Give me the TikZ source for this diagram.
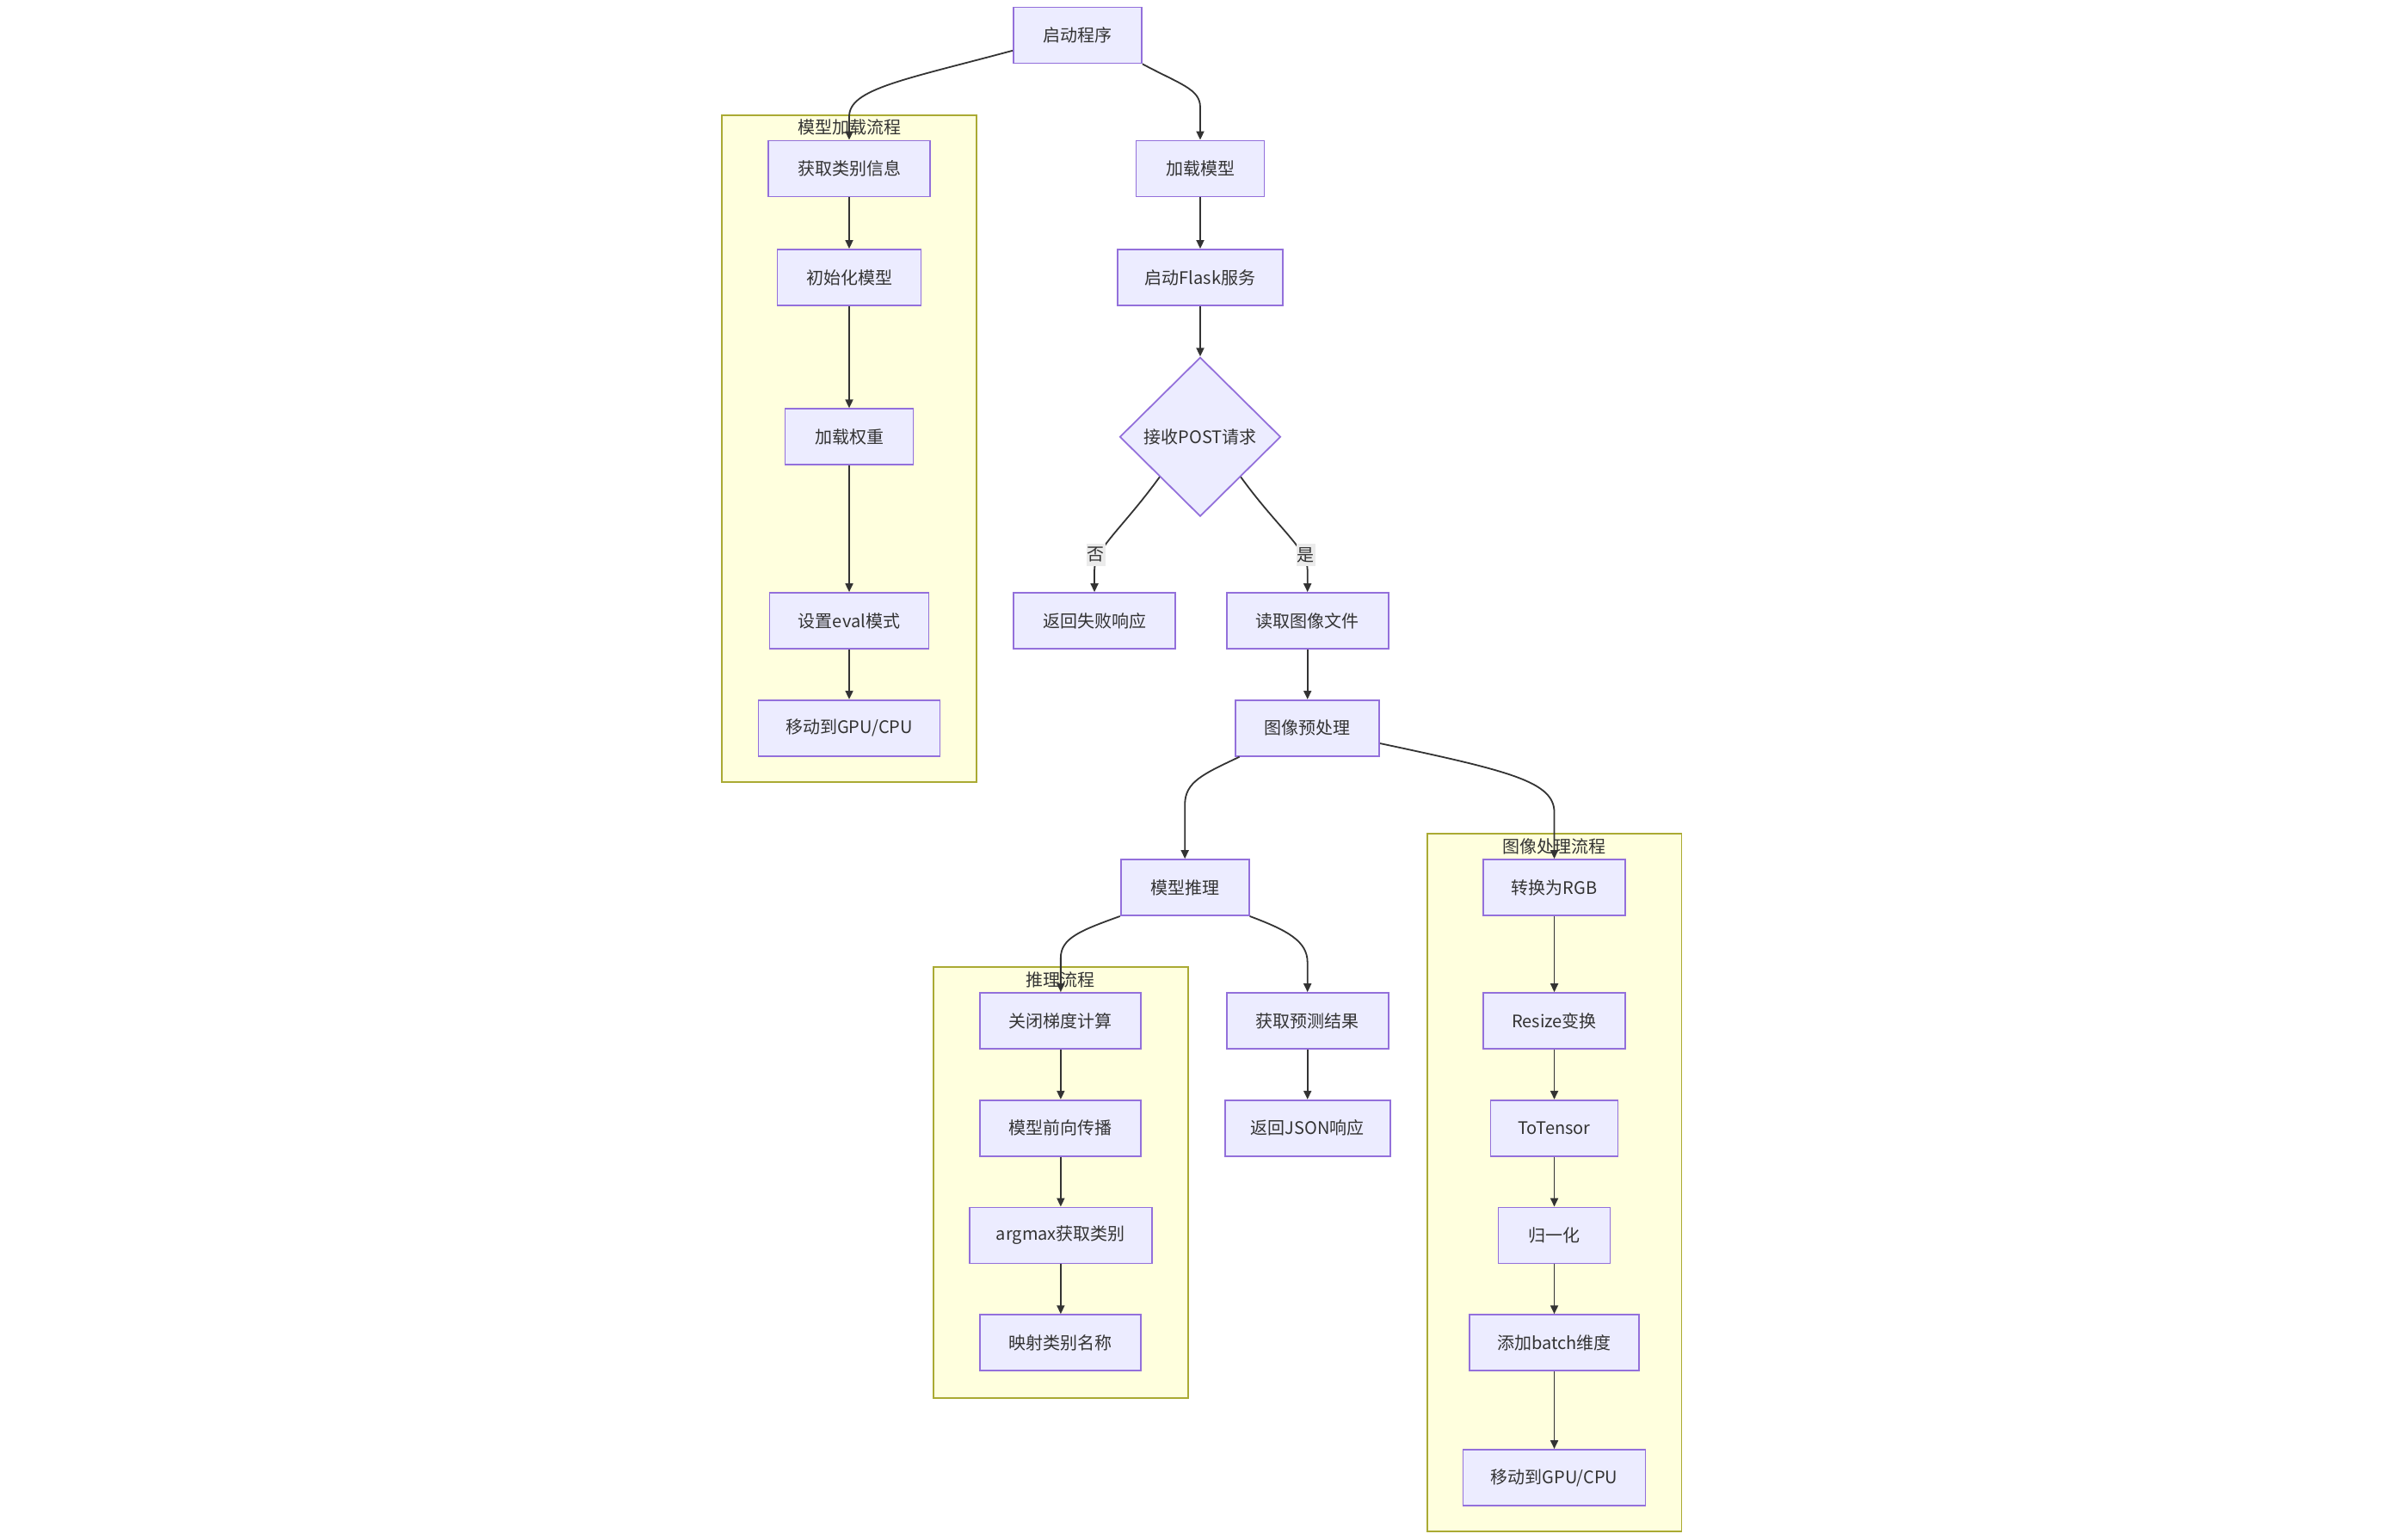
\documentclass[tikz,border=0pt]{standalone}
\usepackage{fontspec}
\setmainfont{Noto Sans CJK SC}
\usetikzlibrary{shapes.geometric,arrows.meta,calc}
\definecolor{nodefill}{HTML}{ECECFF}
\definecolor{nodeline}{HTML}{9370DB}
\definecolor{clusfill}{HTML}{FFFFDE}
\definecolor{clusline}{HTML}{AAAA33}
\definecolor{edgec}{HTML}{333333}
\definecolor{textc}{HTML}{333333}
\definecolor{labelbg}{HTML}{EBEBEB}
\begin{document}
\begin{tikzpicture}[x=1.7816pt,y=-1.7816pt,
  lbl/.style={font=\fontsize{20pt}{24pt}\selectfont, text=textc},
  box/.style={lbl, draw=nodeline, fill=nodefill, line width=1.8pt, minimum height=65pt, inner sep=0pt},
  dia/.style={lbl, diamond, draw=nodeline, fill=nodefill, line width=1.8pt, minimum width=187pt, minimum height=185pt, inner sep=0pt},
  cluster/.style={draw=clusline, fill=clusfill, line width=1.8pt, inner sep=0pt, minimum width=295.7pt},
  ctitle/.style={lbl, inner sep=0pt},
  edge/.style={draw=edgec, line width=1.8pt, -{Triangle[length=10pt,width=9pt]}},
  elabel/.style={lbl, fill=labelbg, inner xsep=1pt, inner ysep=4pt}]
\useasboundingbox (0,0) rectangle (1567.7,1004.7);
% clusters
\node[cluster, minimum height=775pt] (c1) at (554,292.5) {};
\node[cluster, minimum height=500.6pt] (c2) at (692,771.5) {};
\node[cluster, minimum height=810.6pt] (c3) at (1014,771.5) {};
\node[ctitle] (t1) at (554,83) {模型加载流程};
\node[ctitle] (t2) at (692,639) {推理流程};
\node[ctitle] (t3) at (1014,552) {图像处理流程};
% nodes
\node[box, minimum width=149pt] (start) at (703,23) {启动程序};
\node[box, minimum width=188pt] (n1) at (554,110) {获取类别信息};
\node[box, minimum width=167pt] (n2) at (554,181) {初始化模型};
\node[box, minimum width=149pt] (n3) at (554,285) {加载权重};
\node[box, minimum width=185pt] (n4) at (554,405) {设置eval模式};
\node[box, minimum width=211pt] (n5) at (554,475) {移动到GPU/CPU};
\node[box, minimum width=149pt] (m1) at (783,110) {加载模型};
\node[box, minimum width=192pt] (m2) at (783,181) {启动Flask服务};
\node[dia] (dec) at (783,285) {接收POST请求};
\node[box, minimum width=188pt] (fail) at (714,405) {返回失败响应};
\node[box, minimum width=188pt] (read) at (853,405) {读取图像文件};
\node[box, minimum width=167pt] (pre) at (853,475) {图像预处理};
\node[box, minimum width=149pt] (infer) at (773,579) {模型推理};
\node[box, minimum width=187pt] (i1) at (692,666) {关闭梯度计算};
\node[box, minimum width=187pt] (i2) at (692,736) {模型前向传播};
\node[box, minimum width=212pt] (i3) at (692,806) {argmax获取类别};
\node[box, minimum width=187pt] (i4) at (692,876) {映射类别名称};
\node[box, minimum width=188pt] (res) at (853,666) {获取预测结果};
\node[box, minimum width=192pt] (json) at (853,736) {返回JSON响应};
\node[box, minimum width=165pt] (p1) at (1014,579) {转换为RGB};
\node[box, minimum width=165pt] (p2) at (1014,666) {Resize变换};
\node[box, minimum width=148pt] (p3) at (1014,736) {ToTensor};
\node[box, minimum width=130pt] (p4) at (1014,806) {归一化};
\node[box, minimum width=197pt] (p5) at (1014,876) {添加batch维度};
\node[box, minimum width=212pt] (p6) at (1014,964) {移动到GPU/CPU};
% edges
\draw[edge] ($(start.west)+(0,10)$) .. controls (590,52) and (554,58) .. (554,76) -- (n1.north);
\draw[edge] (start.south east) .. controls (770,55) and (783,58) .. (783,70) -- (m1.north);
\draw[edge] (n1) -- (n2);
\draw[edge] (n2) -- (n3);
\draw[edge] (n3) -- (n4);
\draw[edge] (n4) -- (n5);
\draw[edge] (m1) -- (m2);
\draw[edge] (m2) -- (dec);
\draw[edge] (dec.south west) .. controls (732,345) and (714,358) .. (714,372) -- (fail.north);
\draw[edge] (dec.south east) .. controls (834,345) and (853,358) .. (853,372) -- (read.north);
\node[elabel] (lno) at (715,362) {否};
\node[elabel] (lyes) at (852,362) {是};
\draw[edge] (read) -- (pre);
\draw[edge] ($(pre.south west)+(3,0)$) .. controls (785,505) and (773,510) .. (773,525) -- (infer.north);
\draw[edge] ($(pre.east)+(0,10)$) .. controls (985,503) and (1014,510) .. (1014,530) -- (p1.north);
\draw[edge] (infer.south west) .. controls (705,607) and (692,612) .. (692,625) -- (i1.north);
\draw[edge] (infer.south east) .. controls (840,607) and (853,614) .. (853,628) -- (res.north);
\draw[edge] (res) -- (json);
\draw[edge] (i1) -- (i2);
\draw[edge] (i2) -- (i3);
\draw[edge] (i3) -- (i4);
\draw[edge] (p1) -- (p2);
\draw[edge] (p2) -- (p3);
\draw[edge] (p3) -- (p4);
\draw[edge] (p4) -- (p5);
\draw[edge] (p5) -- (p6);
\end{tikzpicture}
\end{document}
